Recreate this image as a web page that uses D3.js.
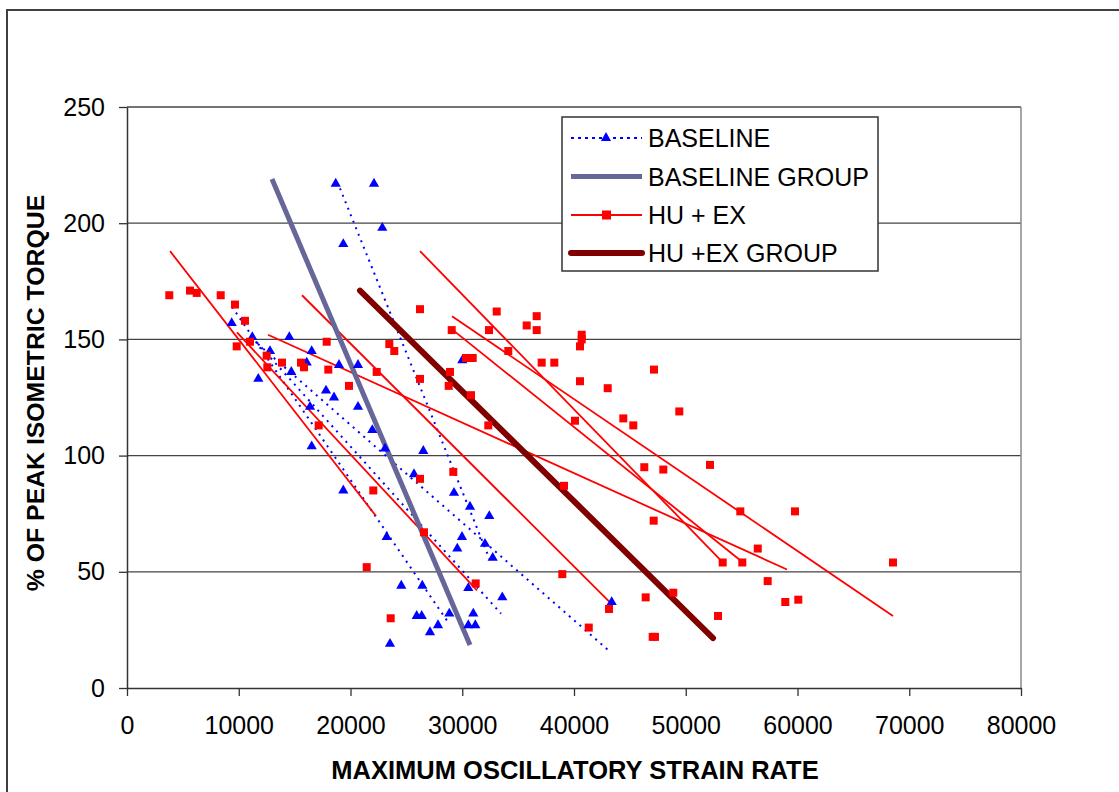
<!DOCTYPE html>
<meta charset="utf-8">
<script src="https://d3js.org/d3.v7.min.js"></script>
<style>
  body { margin: 0; background: #fff; }
  text { font-family: 'Liberation Sans', Arial, sans-serif; }
</style>
<body>
<div id="chart"></div>
<script>

// ---- data ----
var xTicks = [0, 10000, 20000, 30000, 40000, 50000, 60000, 70000, 80000];
var yTicks = [0, 50, 100, 150, 200, 250];

// BASELINE points (strain rate, % torque)
var baseX = [18676, 22103, 22846, 19356, 9369, 11213, 12796, 11749, 14523, 14702, 16080, 16528, 18971, 20671, 30004,
  17808, 18524, 16376, 20671, 21951, 23087, 16528, 19356, 25682, 29262, 30693, 32420, 23239, 29977, 29557, 32036,
  32725, 24546, 26425, 30541, 33584, 25924, 26372, 28842, 30989, 30541, 31168, 27830, 27114, 23535, 43374, 26514];
var baseY = [217, 217, 198, 191, 157, 151, 145, 133, 151, 136, 140, 145, 139, 139, 141,
  128, 125, 121, 121, 111, 103, 104, 85, 92, 84, 78, 74, 65, 65, 60, 62,
  56, 44, 44, 43, 39, 31, 31, 32, 32, 27, 27, 27, 24, 19, 37, 102];

// HU + EX points
var huX = [3785, 5638, 6237, 8385, 9664, 10558, 11007, 9816, 12501, 12555, 13870, 15570, 15839, 17870, 18013, 22344,
  19866, 17154, 22040, 23472, 23919, 26219, 26219, 26219, 28904, 29056, 33083, 32394, 34121, 35767, 36662, 36662,
  30335, 30935, 40689, 40689, 40537, 37109, 38237, 28787, 30783, 40537, 43016, 47159, 44411, 45306, 49422, 40089,
  32331, 29199, 39105, 46291, 47991, 52170, 54881, 59776, 47132, 56444, 53305, 55059, 68545, 38953, 57332, 58907,
  60071, 48885, 46416, 43132, 52886, 41322, 47042, 47248, 26577, 21450, 31204, 23597];
var huY = [169, 171, 170, 169, 165, 158, 149, 147, 143, 138, 140, 140, 138, 149, 137, 136,
  130, 113, 85, 148, 145, 163, 133, 90, 136, 154, 162, 154, 145, 156, 160, 154,
  142, 142, 152, 150, 147, 140, 140, 130, 126, 132, 129, 137, 116, 113, 119, 115,
  113, 93, 87, 95, 94, 96, 76, 76, 72, 60, 54, 54, 54, 49, 46, 37,
  38, 41, 39, 34, 31, 26, 22, 22, 67, 52, 45, 30];

// individual trend lines [x1, y1, x2, y2]
var baseFits = [
  [19060, 215, 32483, 55],
  [11723, 148, 43132, 16],
  [9396, 164, 28635, 29],
  [11186, 151, 33467, 32]
];
var huFits = [
  [3848, 188, 22282, 74],
  [9843, 153, 31320, 42],
  [12617, 152, 59060, 51],
  [15660, 169, 43400, 36],
  [26219, 188, 53333, 54],
  [29083, 160, 68545, 31],
  [29172, 154, 55123, 54]
];
// group trend lines
var baseGroup = [12975, 219, 30693, 18.5];
var huGroup = [20850, 171, 52438, 21.5];

var legendNames = ["BASELINE", "BASELINE GROUP", "HU + EX", "HU +EX GROUP"];

// ---- chart ----
var W = 1119, H = 792;
var svg = d3.select("#chart").append("svg")
  .attr("width", W).attr("height", H);

// outer frame (cut off at right and bottom like the picture)
svg.append("rect")
  .attr("x", 7).attr("y", 10).attr("width", 1200).attr("height", 900)
  .attr("fill", "none").attr("stroke", "#404040").attr("stroke-width", 2);

var x = d3.scaleLinear().domain([0, 80000]).range([127, 1021]);
var y = d3.scaleLinear().domain([0, 250]).range([688, 107]);

// gridlines
svg.append("g").selectAll("line")
  .data(yTicks.filter(function(d) { return d > 0; }))
  .enter().append("line")
    .attr("x1", x(0)).attr("x2", x(80000))
    .attr("y1", function(d) { return y(d); })
    .attr("y2", function(d) { return y(d); })
    .attr("stroke", "#444").attr("stroke-width", 1.3);

// right border of plot area
svg.append("line")
  .attr("x1", x(80000)).attr("x2", x(80000))
  .attr("y1", y(250)).attr("y2", y(0))
  .attr("stroke", "#888").attr("stroke-width", 1.5);

// axes
var yAxis = svg.append("g")
  .attr("transform", "translate(" + x(0) + ",0)")
  .call(d3.axisLeft(y).tickValues(yTicks).tickSize(8).tickPadding(14).tickSizeOuter(0));
var xAxis = svg.append("g")
  .attr("transform", "translate(0," + y(0) + ")")
  .call(d3.axisBottom(x).tickValues(xTicks).tickSize(8).tickPadding(20).tickSizeOuter(0)
    .tickFormat(d3.format("d")));
[yAxis, xAxis].forEach(function(a) {
  a.select(".domain").attr("stroke", "#333").attr("stroke-width", 1.5);
  a.selectAll(".tick line").attr("stroke", "#333").attr("stroke-width", 1.3);
  a.selectAll("text").attr("font-size", "25px").attr("fill", "#000")
    .style("font-family", "'Liberation Sans', Arial, sans-serif");
});

// axis titles
svg.append("text")
  .attr("x", 575).attr("y", 779)
  .attr("text-anchor", "middle")
  .attr("font-weight", "bold").attr("font-size", "25.5px")
  .text("MAXIMUM OSCILLATORY STRAIN RATE");
svg.append("text")
  .attr("transform", "translate(44,393) rotate(-90)")
  .attr("text-anchor", "middle")
  .attr("font-weight", "bold").attr("font-size", "24.8px")
  .text("% OF PEAK ISOMETRIC TORQUE");

function seg(g, d) {
  return g.append("line")
    .attr("x1", x(d[0])).attr("y1", y(d[1]))
    .attr("x2", x(d[2])).attr("y2", y(d[3]));
}

var plot = svg.append("g");

// baseline individual fits (dotted blue)
baseFits.forEach(function(d) {
  seg(plot, d).attr("stroke", "#0000ff").attr("stroke-width", 2)
    .attr("stroke-dasharray", "2,5");
});
// HU + EX individual fits (red)
huFits.forEach(function(d) {
  seg(plot, d).attr("stroke", "#ff0000").attr("stroke-width", 1.8);
});
// group lines
seg(plot, baseGroup).attr("stroke", "#666699").attr("stroke-width", 5);
seg(plot, huGroup).attr("stroke", "#800000").attr("stroke-width", 6).attr("stroke-linecap", "round");

// markers
var tri = d3.symbol().type(d3.symbolTriangle).size(45);
plot.append("g").selectAll("path")
  .data(d3.range(baseX.length))
  .enter().append("path")
    .attr("d", tri)
    .attr("transform", function(i) { return "translate(" + x(baseX[i]) + "," + y(baseY[i]) + ")"; })
    .attr("fill", "#0000ff");

plot.append("g").selectAll("rect")
  .data(d3.range(huX.length))
  .enter().append("rect")
    .attr("x", function(i) { return x(huX[i]) - 4; })
    .attr("y", function(i) { return y(huY[i]) - 4; })
    .attr("width", 8).attr("height", 8)
    .attr("fill", "#ff0000");

// legend
var lg = svg.append("g").attr("transform", "translate(562,117)");
lg.append("rect").attr("width", 316).attr("height", 154)
  .attr("fill", "#fff").attr("stroke", "#333").attr("stroke-width", 1.5);
var rowY = [21, 59.5, 98, 136];
legendNames.forEach(function(name, i) {
  var ry = rowY[i];
  var ln = lg.append("line").attr("x1", 9).attr("x2", 80).attr("y1", ry).attr("y2", ry);
  if (i == 0) {
    ln.attr("stroke", "#0000ff").attr("stroke-width", 2).attr("stroke-dasharray", "3,4");
    lg.append("path").attr("d", tri).attr("transform", "translate(44," + ry + ")").attr("fill", "#0000ff");
  } else if (i == 1) {
    ln.attr("stroke", "#666699").attr("stroke-width", 5);
  } else if (i == 2) {
    ln.attr("stroke", "#ff0000").attr("stroke-width", 1.8);
    lg.append("rect").attr("x", 40).attr("y", ry - 4.5).attr("width", 9).attr("height", 9).attr("fill", "#ff0000");
  } else {
    ln.attr("stroke", "#800000").attr("stroke-width", 6).attr("stroke-linecap", "round");
  }
  lg.append("text").attr("x", 86).attr("y", ry + 9)
    .attr("font-size", "25px").text(name);
});

</script>
</body>
